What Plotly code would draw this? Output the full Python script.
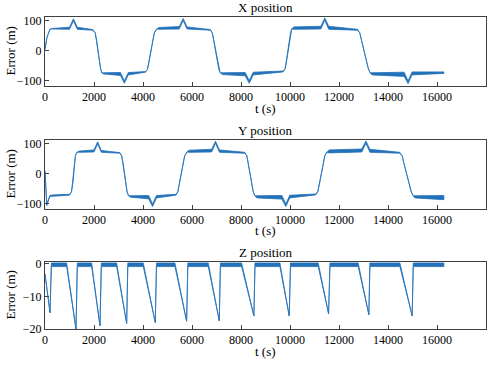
import plotly.graph_objects as go

# ---------------- data ----------------
x_ticks = [0, 2000, 4000, 6000, 8000, 10000, 12000, 14000, 16000, 18000]
x_tick_labels = ["0", "2000", "4000", "6000", "8000", "10000", "12000", "14000", "16000", "18000"]
xy_ticks = [-100, 0, 100]
xy_tick_labels = ["\u2212100", "0", "100"]
z_ticks = [-20, -10, 0]
z_tick_labels = ["\u221220", "\u221210", "0"]

# X position: time, lower envelope, upper envelope
x_t = [0, 80, 200, 300, 1000, 1160, 1320, 1950, 2050, 2110, 2270, 2320, 2400, 3080, 3240, 3400,
       4100, 4180, 4250, 4460, 4560, 4650, 5480, 5640, 5800, 6750, 6830, 6890, 7090, 7150, 7250,
       8170, 8336, 8500, 9720, 9800, 9860, 10020, 10070, 10150, 11260, 11420, 11580, 12750, 12850,
       12920, 13200, 13270, 13350, 14660, 14820, 14980, 16280]
x_lo = [5, 45, 72, 73, 72, 100, 72, 69, 60, 35, -60, -73, -77, -82, -108, -80,
        -71, -62, -35, 60, 73, 72, 73, 101, 73, 69, 60, 35, -60, -73, -79,
        -83, -108, -80, -70, -60, -35, 60, 73, 72, 73, 102, 72, 69, 60,
        35, -60, -73, -80, -85, -109, -80, -75]
x_hi = [5, 45, 72, 75, 79, 107, 79, 71, 60, 35, -60, -73, -73, -72, -100, -72,
        -69, -62, -35, 60, 73, 78, 81, 108, 80, 71, 60, 35, -60, -73, -73,
        -72, -99, -71, -67, -60, -35, 60, 73, 80, 82, 110, 82, 72, 60,
        35, -60, -73, -73, -71, -100, -70, -70]

# Y position
y_t = [0, 30, 70, 200, 300, 1000, 1080, 1140, 1240, 1300, 1400, 2000, 2150, 2300, 3050, 3130,
       3190, 3350, 3410, 3500, 4230, 4390, 4550, 5340, 5420, 5480, 5700, 5790, 5880, 6800, 6960,
       7120, 8150, 8240, 8300, 8500, 8570, 8650, 9670, 9830, 9990, 11050, 11130, 11200, 11420,
       11500, 11600, 12930, 13100, 13260, 14480, 14580, 14650, 14950, 15030, 15100, 16280]
y_lo = [10, -60, -106, -75, -74, -71, -60, -30, 60, 72, 72, 73, 100, 72, 69, 60,
        35, -60, -73, -78, -83, -109, -80, -71, -60, -35, 60, 73, 72, 73, 102,
        72, 69, 60, 35, -60, -73, -80, -84, -109, -80, -70, -60, -35, 60,
        72, 70, 73, 102, 72, 69, 60, 35, -60, -73, -80, -86]
y_hi = [10, -60, -100, -72, -70, -68, -60, -30, 60, 72, 76, 80, 107, 78, 71, 60,
        35, -60, -73, -73, -72, -100, -72, -68, -60, -35, 60, 73, 79, 82, 109,
        80, 72, 60, 35, -60, -73, -73, -72, -100, -71, -67, -60, -35, 60,
        72, 80, 83, 110, 82, 72, 60, 35, -60, -73, -73, -72]

# Z position
z_t = [0, 204, 260, 884, 1265, 1320, 1904, 2244, 2300, 2924, 3333, 3380, 4011, 4500, 4550,
       5304, 5781, 5830, 6664, 7113, 7160, 8024, 8527, 8570, 9588, 9968, 10020, 11152, 11575,
       11630, 12783, 13219, 13260, 14484, 14987, 15030, 16280]
z_hi = [-3, -15, 0.3, 0.3, -20, 0.3, 0.3, -19, 0.3, 0.3, -18.3, 0.3, 0.3, -18, 0.3,
        0.3, -17.6, 0.3, 0.3, -17.5, 0.3, 0.3, -16, 0.3, 0.3, -16, 0.3, 0.3, -15.3,
        0.3, 0.3, -15.6, 0.3, 0.3, -16, 0.3, 0.3]
z_lo = [-3, -15, -0.8, -0.8, -20, -0.8, -0.8, -19, -0.8, -0.8, -18.3, -0.8, -0.8, -18, -0.8,
        -0.8, -17.6, -0.8, -0.8, -17.5, -0.8, -0.8, -16, -0.8, -0.8, -16, -0.8, -0.8, -15.3,
        -0.8, -0.8, -15.6, -0.8, -0.8, -16, -0.8, -0.8]

titles = ["X position", "Y position", "Z position"]
y_label = "Error (m)"
x_label = "t (s)"

# ---------------- figure ----------------
W, H = 500, 365
LINE = "#2271b9"
FONT = "Liberation Serif"
ML, MR = 45, 14
PW = W - ML - MR

panels = [  # top px, bottom px
    (17, 86),
    (140, 209),
    (262, 329),
]

fig = go.Figure()

series = [(x_t, x_lo, x_hi), (y_t, y_lo, y_hi), (z_t, z_lo, z_hi)]
for i, (t, lo, hi) in enumerate(series):
    xs = list(t) + list(t)[::-1]
    ys = list(hi) + list(lo)[::-1]
    fig.add_trace(go.Scatter(
        x=xs, y=ys, mode="lines", fill="toself", fillcolor=LINE,
        line=dict(color=LINE, width=0.8), showlegend=False, hoverinfo="skip",
        xaxis="x" if i == 0 else f"x{i+1}", yaxis="y" if i == 0 else f"y{i+1}"))

ranges = [[-117, 113], [-117, 113], [-20, 0.6]]
yticks = [(xy_ticks, xy_tick_labels), (xy_ticks, xy_tick_labels), (z_ticks, z_tick_labels)]

layout = dict(
    width=W, height=H,
    margin=dict(l=ML, r=MR, t=0, b=0, autoexpand=False),
    paper_bgcolor="white", plot_bgcolor="white",
    font=dict(family=FONT, size=12, color="black"),
    showlegend=False,
)

annotations = []
for i, (top, bot) in enumerate(panels):
    suf = "" if i == 0 else str(i + 1)
    dom = [1 - bot / H, 1 - top / H]
    common = dict(showline=True, mirror=True, linecolor="#404040", linewidth=1,
                  ticks="inside", ticklen=4, tickcolor="#404040", showgrid=False,
                  zeroline=False, automargin=False,
                  tickfont=dict(family=FONT, size=12, color="black"))
    layout["xaxis" + suf] = dict(domain=[0, 1], range=[0, 18000], tickvals=x_ticks,
                                 ticktext=x_tick_labels, anchor="y" + suf, **common)
    layout["yaxis" + suf] = dict(domain=dom, range=ranges[i], tickvals=yticks[i][0],
                                 ticktext=yticks[i][1], anchor="x" + suf, **common)
    cx = 0.5
    annotations.append(dict(text=titles[i], x=cx, y=1 - (top - 10) / H, xref="paper", yref="paper",
                            showarrow=False, xanchor="center", yanchor="middle",
                            font=dict(family=FONT, size=13, color="black")))
    annotations.append(dict(text=x_label, x=cx, y=1 - (bot + 22) / H, xref="paper", yref="paper",
                            showarrow=False, xanchor="center", yanchor="middle",
                            font=dict(family=FONT, size=13, color="black")))
    annotations.append(dict(text=y_label, x=(10 - ML) / PW, y=1 - (top + bot) / 2 / H,
                            xref="paper", yref="paper", textangle=-90,
                            showarrow=False, xanchor="center", yanchor="middle",
                            font=dict(family=FONT, size=13, color="black")))
layout["annotations"] = annotations
fig.update_layout(**layout)

fig.write_html("out.html", config={"displayModeBar": False},
               post_script="document.body.style.margin='0';document.body.style.overflow='hidden';")
